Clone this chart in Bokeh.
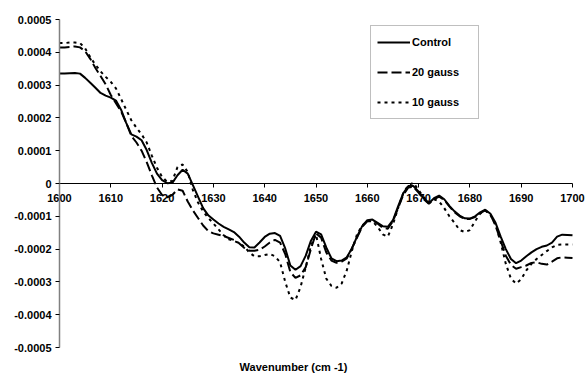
from bokeh.plotting import figure
from bokeh.models import (Range1d, FixedTicker, CustomJSTickFormatter, Legend,
                          LegendItem, ColumnDataSource, LinearAxis)
from bokeh.embed import file_html
from bokeh.resources import INLINE

# ---- data ----
wavenumber = list(range(1600, 1701))

control = [3.35, 3.35, 3.36, 3.37, 3.35, 3.22, 3.07, 2.92, 2.76, 2.68,
           2.62, 2.53, 2.25, 1.85, 1.50, 1.43, 1.32, 1.02, 0.63, 0.30,
           0.10, 0.01, 0.02, 0.25, 0.42, 0.30, -0.05, -0.40, -0.75, -0.97,
           -1.10, -1.22, -1.32, -1.40, -1.48, -1.62, -1.80, -1.94, -1.95, -1.80,
           -1.63, -1.53, -1.51, -1.60, -1.98, -2.50, -2.63, -2.52, -2.20, -1.75,
           -1.47, -1.55, -1.95, -2.28, -2.37, -2.35, -2.25, -1.98, -1.62, -1.30,
           -1.12, -1.10, -1.20, -1.30, -1.32, -1.12, -0.70, -0.30, -0.08, -0.08,
           -0.25, -0.45, -0.60, -0.45, -0.37, -0.48, -0.68, -0.85, -0.98, -1.06,
           -1.07, -1.00, -0.88, -0.80, -0.92, -1.20, -1.62, -2.00, -2.30, -2.43,
           -2.35, -2.22, -2.10, -2.00, -1.93, -1.89, -1.80, -1.62, -1.56, -1.57,
           -1.58]

gauss20 = [4.15, 4.15, 4.16, 4.18, 4.15, 4.03, 3.80, 3.52, 3.28, 3.02,
           2.70, 2.45, 2.20, 1.85, 1.45, 1.25, 1.00, 0.65, 0.25, -0.12,
           -0.35, -0.42, -0.35, -0.18, -0.22, -0.55, -0.82, -1.05, -1.28, -1.45,
           -1.52, -1.56, -1.60, -1.66, -1.72, -1.82, -1.96, -2.05, -2.05, -2.02,
           -1.92, -1.80, -1.72, -1.80, -2.15, -2.70, -2.88, -2.80, -2.55, -2.00,
           -1.52, -1.65, -2.10, -2.35, -2.42, -2.38, -2.28, -1.98, -1.65, -1.32,
           -1.15, -1.12, -1.22, -1.35, -1.38, -1.15, -0.75, -0.35, -0.12, -0.10,
           -0.28, -0.48, -0.62, -0.48, -0.40, -0.50, -0.70, -0.88, -1.00, -1.08,
           -1.08, -1.02, -0.90, -0.82, -0.95, -1.28, -1.75, -2.20, -2.48, -2.60,
           -2.55, -2.50, -2.42, -2.40, -2.45, -2.47, -2.38, -2.28, -2.25, -2.26,
           -2.27]

gauss10 = [4.28, 4.28, 4.30, 4.30, 4.28, 4.12, 3.85, 3.62, 3.42, 3.25,
           3.10, 2.90, 2.58, 2.25, 1.93, 1.70, 1.50, 1.25, 0.85, 0.48,
           0.20, 0.05, 0.08, 0.50, 0.58, 0.35, -0.20, -0.58, -0.85, -1.05,
           -1.22, -1.40, -1.58, -1.70, -1.75, -1.82, -1.92, -2.10, -2.22, -2.22,
           -2.18, -2.15, -2.22, -2.40, -3.00, -3.48, -3.55, -3.15, -2.55, -1.90,
           -1.55, -2.30, -2.90, -3.12, -3.18, -3.05, -2.65, -2.05, -1.55, -1.28,
           -1.15, -1.15, -1.32, -1.55, -1.62, -1.25, -0.75, -0.30, -0.05, 0.02,
           -0.20, -0.42, -0.58, -0.48, -0.55, -0.75, -1.00, -1.20, -1.42, -1.48,
           -1.42, -1.15, -0.92, -0.82, -0.95, -1.25, -1.80, -2.45, -2.90, -3.05,
           -2.92, -2.65, -2.45, -2.30, -2.18, -2.06, -1.95, -1.87, -1.86, -1.86,
           -1.86]

scale = 1e-4  # values above are in units of 0.0001

x_ticks = [1600, 1610, 1620, 1630, 1640, 1650, 1660, 1670, 1680, 1690, 1700]
y_ticks = [-0.0005, -0.0004, -0.0003, -0.0002, -0.0001, 0.0,
           0.0001, 0.0002, 0.0003, 0.0004, 0.0005]

series_names = ["Control", "20 gauss", "10 gauss"]
x_title = "Wavenumber (cm -1)"

FONT = "Liberation Sans"

# layout: the data area (1600..1700, -0.0005..0.0005) covers 513 x 328 px
# with its top-left corner at (59, 19); the frame fills the whole figure so
# that the axis labels are never clipped.
W, H = 586, 374
LEFT, TOP, PLOT_W, PLOT_H = 59, 19, 513, 328
ppx = PLOT_W / 100.0
ppy = PLOT_H / 0.001
x_start = 1600 - LEFT / ppx
x_end = 1700 + (W - LEFT - PLOT_W) / ppx
y_start = -0.0005 - (H - TOP - PLOT_H) / ppy
y_end = 0.0005 + TOP / ppy

p = figure(width=W, height=H, output_backend="svg", toolbar_location=None,
           x_range=Range1d(x_start, x_end), y_range=Range1d(y_start, y_end),
           min_border_left=0, min_border_right=0, min_border_top=0,
           min_border_bottom=0)
p.outline_line_color = None
p.grid.visible = False
p.background_fill_color = "white"
p.border_fill_color = "white"

# y axis, drawn at x = 1600
p.yaxis.fixed_location = 1600
p.yaxis.bounds = (-0.0005, 0.0005)
p.yaxis.ticker = FixedTicker(ticks=y_ticks)
p.yaxis.formatter = CustomJSTickFormatter(
    code="return Math.abs(tick) < 1e-12 ? '0' : tick.toFixed(4);")
p.yaxis.minor_tick_line_color = None
p.yaxis.major_tick_in = 0
p.yaxis.major_tick_out = 4
p.yaxis.major_tick_line_color = "black"
p.yaxis.axis_line_color = "#808080"
p.yaxis.axis_line_width = 1.5
p.yaxis.major_label_standoff = 4
p.yaxis.major_label_text_font = FONT
p.yaxis.major_label_text_font_style = "bold"
p.yaxis.major_label_text_font_size = "11px"
p.yaxis.major_label_text_color = "black"

# default bottom axis: drawn at the bottom of the data area, title only
p.xaxis.fixed_location = -0.0005
p.xaxis.ticker = FixedTicker(ticks=[])
p.xaxis.minor_tick_line_color = None
p.xaxis.major_tick_out = 0
p.xaxis.major_tick_in = 0
p.xaxis.axis_line_color = None
p.xaxis.major_label_standoff = 0
p.xaxis.axis_label = x_title
p.xaxis.axis_label_standoff = 13
p.xaxis.axis_label_text_font = FONT
p.xaxis.axis_label_text_font_style = "bold"
p.xaxis.axis_label_text_font_size = "11px"
p.xaxis.axis_label_text_color = "black"

# x axis drawn at y = 0
zero_axis = LinearAxis(fixed_location=0, bounds=(1600, 1700),
                       ticker=FixedTicker(ticks=x_ticks),
                       axis_line_color="black", axis_line_width=1,
                       major_tick_in=0, major_tick_out=4,
                       major_tick_line_color="black",
                       minor_tick_line_color=None,
                       major_label_standoff=6,
                       major_label_text_font=FONT,
                       major_label_text_font_style="bold",
                       major_label_text_font_size="11px",
                       major_label_text_color="black")
p.add_layout(zero_axis, "below")

src = ColumnDataSource(dict(
    w=wavenumber,
    c=[v * scale for v in control],
    g20=[v * scale for v in gauss20],
    g10=[v * scale for v in gauss10],
))

r_c = p.line("w", "c", source=src, line_color="black", line_width=2)
r_20 = p.line("w", "g20", source=src, line_color="black", line_width=2,
              line_dash="10 4")
r_10 = p.line("w", "g10", source=src, line_color="black", line_width=2,
              line_dash="3 4")

legend = Legend(items=[LegendItem(label=series_names[0], renderers=[r_c]),
                       LegendItem(label=series_names[1], renderers=[r_20]),
                       LegendItem(label=series_names[2], renderers=[r_10])],
                location=(370, 255), orientation="vertical",
                border_line_color="#808080", border_line_width=1.5,
                background_fill_color="white", background_fill_alpha=1,
                label_text_font=FONT, label_text_font_style="bold",
                label_text_font_size="11px", label_text_color="black",
                glyph_width=33, glyph_height=20, label_height=20,
                label_width=60, spacing=10, padding=6, margin=0,
                label_standoff=2)
p.add_layout(legend)

open("out.html", "w").write(file_html(p, INLINE))
